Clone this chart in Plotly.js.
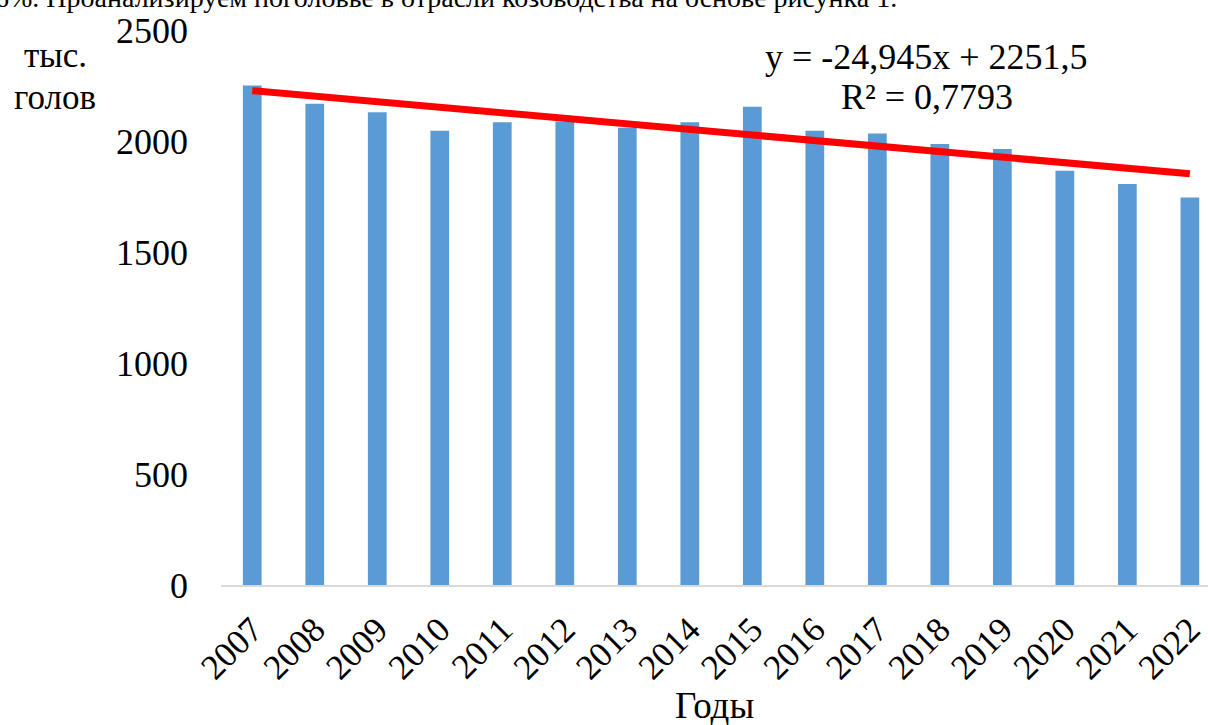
<!DOCTYPE html>
<html><head><meta charset="utf-8">
<script src="https://cdn.plot.ly/plotly-3.0.1.min.js"></script>
<style>html,body{margin:0;padding:0;background:#fff;overflow:hidden}</style>
</head><body><div id="chart" style="width:1208px;height:725px"></div>
<script>
const years = ['2007','2008','2009','2010','2011','2012','2013','2014','2015','2016','2017','2018','2019','2020','2021','2022'];
const heads = [2250,2168,2130,2046,2084,2088,2060,2084,2154,2046,2034,1986,1964,1866,1806,1745];
const trendSlope = -24.945;
const trendIntercept = 2251.5;
const equationText = 'y = -24,945x + 2251,5';
const r2Text = 'R² = 0,7793';
const yTicks = [0,500,1000,1500,2000,2500];

const trendX = [years[0], years[years.length-1]];
const trendY = [trendIntercept + trendSlope*1, trendIntercept + trendSlope*years.length];

const serif = 'Liberation Serif, Times New Roman, serif';
const data = [
  {type:'bar', x:years, y:heads, marker:{color:'#5b9bd5'}, width:0.3, hoverinfo:'x+y'},
  {type:'scatter', mode:'lines', x:trendX, y:trendY, line:{color:'#ff0000', width:7}, hoverinfo:'skip'}
];
const layout = {
  width:1208, height:725,
  margin:{l:221, r:0, t:30, b:140},
  paper_bgcolor:'#fff', plot_bgcolor:'#fff',
  showlegend:false,
  font:{family:serif, color:'#000', size:36},
  xaxis:{type:'category', range:[-0.5,15.29], showgrid:false, showline:true, linecolor:'#d9d9d9', linewidth:2,
         tickangle:-45, tickfont:{size:35, family:serif}, ticks:'', zeroline:false, ticklabelstandoff:8},
  yaxis:{range:[0,2500], tickvals:yTicks, showgrid:false, showline:false, zeroline:false, ticks:'',
         tickfont:{size:36, family:serif}, ticklabelstandoff:32},
  annotations:[
    {xref:'paper', yref:'paper', x:0.715, y:1.0, yshift:-27, xanchor:'center', yanchor:'middle', text:equationText, showarrow:false, font:{size:36, family:serif}},
    {xref:'paper', yref:'paper', x:0.715, y:1.0, yshift:-67, xanchor:'center', yanchor:'middle', text:r2Text, showarrow:false, font:{size:36, family:serif}},
    {xref:'paper', yref:'paper', x:0, y:1, xshift:-166, yshift:-25, xanchor:'center', yanchor:'middle', text:'тыс.', showarrow:false, font:{size:35, family:serif}},
    {xref:'paper', yref:'paper', x:0, y:1, xshift:-166, yshift:-67, xanchor:'center', yanchor:'middle', text:'голов', showarrow:false, font:{size:35, family:serif}},
    {xref:'paper', yref:'paper', x:0.5, y:0, yshift:-120, xanchor:'center', yanchor:'middle', text:'Годы', showarrow:false, font:{size:37, family:serif}},
    {xref:'paper', yref:'paper', x:0, y:1, xshift:-228, yshift:33, xanchor:'left', yanchor:'middle', text:'6%. Проанализируем поголовье в отрасли козоводства на основе рисунка 1.', showarrow:false, font:{size:28, family:serif}}
  ]
};
Plotly.newPlot('chart', data, layout, {displayModeBar:false, staticPlot:true});
</script></body></html>
